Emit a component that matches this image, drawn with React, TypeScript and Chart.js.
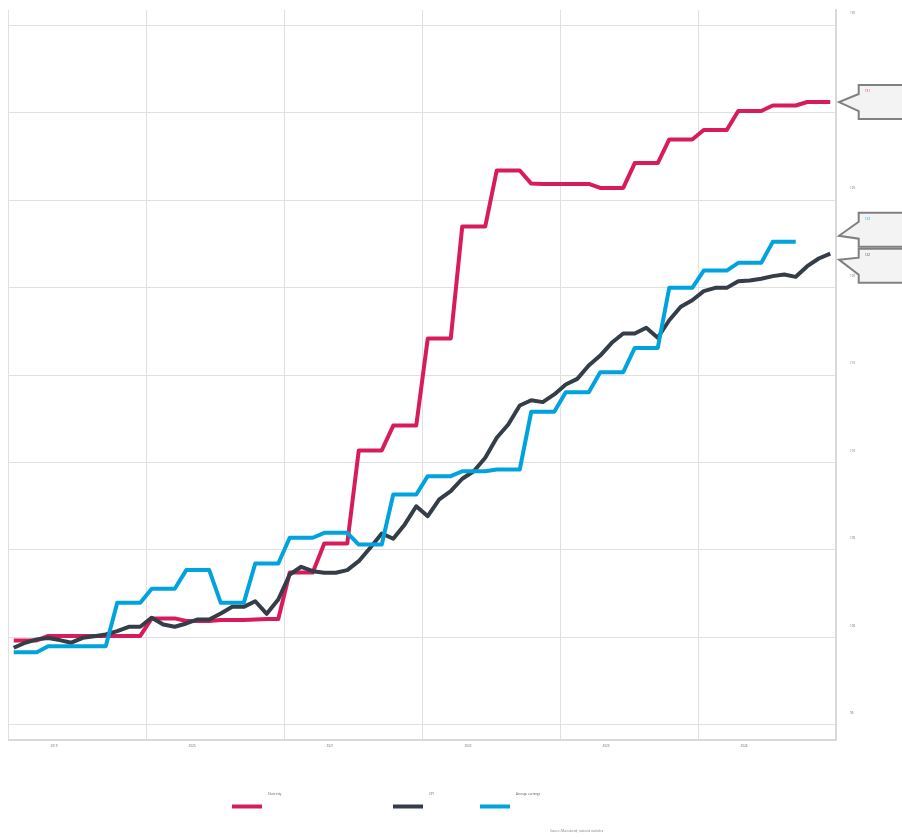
import React, { useEffect, useRef } from "react";
import { Chart, registerables } from "chart.js";

Chart.register(...registerables);

// ---- data (monthly, Jan 2019 = month 0) ----
const years = ["2019", "2020", "2021", "2022", "2023", "2024"];
const seriesNames = ["Electricity", "CPI", "Average earnings"];
const seriesColors = ["#d81c5b", "#343d48", "#00a3de"];

const electricity = [
  99.83, 99.83, 99.83, 100.09, 100.09, 100.09, 100.09, 100.09, 100.09, 100.09, 100.09, 100.09,
  101.09, 101.09, 101.09, 100.94, 100.94, 100.94, 101.0, 101.0, 101.0, 101.03, 101.06, 101.06,
  103.71, 103.71, 103.71, 105.37, 105.37, 105.37, 110.69, 110.69, 110.69, 112.11, 112.11, 112.11,
  117.09, 117.09, 117.09, 123.49, 123.49, 123.49, 126.69, 126.69, 126.69, 125.94, 125.92, 125.92,
  125.92, 125.92, 125.92, 125.69, 125.69, 125.69, 127.11, 127.11, 127.11, 128.46, 128.46, 128.46,
  129.0, 129.0, 129.0, 130.09, 130.09, 130.09, 130.4, 130.4, 130.4, 130.6, 130.6, 130.6,
];

const cpi = [
  99.41, 99.7, 99.89, 99.97, 99.85, 99.7, 99.98, 100.07, 100.17, 100.36, 100.61, 100.61,
  101.13, 100.74, 100.61, 100.8, 101.03, 101.03, 101.37, 101.75, 101.75, 102.07, 101.35, 102.17,
  103.6, 104.04, 103.79, 103.7, 103.7, 103.85, 104.36, 105.13, 105.94, 105.64, 106.46, 107.5,
  106.93, 107.89, 108.36, 109.07, 109.5, 110.27, 111.41, 112.17, 113.26, 113.56, 113.45, 113.89,
  114.46, 114.78, 115.54, 116.11, 116.84, 117.37, 117.37, 117.7, 117.13, 118.13, 118.9, 119.27,
  119.79, 119.98, 119.98, 120.36, 120.4, 120.5, 120.65, 120.74, 120.61, 121.22, 121.66, 121.94,
];

const earnings = [
  99.16, 99.16, 99.16, 99.5, 99.5, 99.5, 99.5, 99.5, 99.5, 101.98, 101.98, 101.98,
  102.78, 102.78, 102.78, 103.85, 103.85, 103.85, 101.98, 101.98, 101.98, 104.23, 104.23, 104.23,
  105.7, 105.7, 105.7, 105.98, 105.98, 105.98, 105.31, 105.31, 105.31, 108.17, 108.17, 108.17,
  109.22, 109.22, 109.22, 109.5, 109.5, 109.5, 109.6, 109.6, 109.6, 112.9, 112.9, 112.9,
  114.02, 114.02, 114.02, 115.16, 115.16, 115.16, 116.55, 116.55, 116.55, 119.98, 119.98, 119.98,
  120.97, 120.97, 120.97, 121.41, 121.41, 121.41, 122.61, 122.61, 122.61,
];

const yTicks = [95, 100, 105, 110, 115, 120, 125, 130, 135];
const sourceText = "Source: Macrobond, national statistics";

const FONT = "'Open Sans', 'DejaVu Sans', sans-serif";

const zeroPad = (scale: any) => {
  scale.paddingTop = 0;
  scale.paddingBottom = 0;
  scale.paddingLeft = 0;
  scale.paddingRight = 0;
};

const overlayPlugin = {
  id: "overlay",
  afterDraw(chart: any) {
    const { ctx, chartArea, scales } = chart;
    const ys = scales.y;
    const items = chart.data.datasets.map((ds: any, i: number) => {
      const last = ds.data[ds.data.length - 1].y;
      const vy = ys.getPixelForValue(last);
      return { i, color: ds.borderColor, value: last, vy, cy: vy };
    });
    items.sort((a: any, b: any) => a.vy - b.vy);
    const gap = 36;
    for (let it = 0; it < 30; it++) {
      for (let k = 1; k < items.length; k++) {
        const a = items[k - 1];
        const b = items[k];
        const d = b.cy - a.cy;
        if (d < gap) {
          const s = (gap - d) / 2;
          a.cy -= s;
          b.cy += s;
        }
      }
    }
    ctx.save();
    items.forEach((it: any) => {
      const left = chartArea.right + 22.7;
      const right = chart.width + 10;
      const top = it.cy - 17;
      const bottom = it.cy + 17;
      const tipX = chartArea.right + 3;
      const tipY = (it.vy + it.cy) / 2;
      ctx.beginPath();
      ctx.moveTo(left, top);
      ctx.lineTo(right, top);
      ctx.lineTo(right, bottom);
      ctx.lineTo(left, bottom);
      ctx.lineTo(left, bottom - 8);
      ctx.lineTo(tipX, tipY);
      ctx.lineTo(left, top + 9);
      ctx.closePath();
      ctx.fillStyle = "#f3f3f3";
      ctx.fill();
      ctx.lineWidth = 2;
      ctx.strokeStyle = "#808080";
      ctx.lineJoin = "miter";
      ctx.stroke();
      ctx.fillStyle = it.color;
      ctx.font = `3px ${FONT}`;
      ctx.textBaseline = "middle";
      ctx.textAlign = "left";
      ctx.fillText(it.value.toFixed(0), left + 6, top + 6.5);
    });

    // legend
    const swX = [224, 385, 472];
    chart.data.datasets.forEach((ds: any, i: number) => {
      const x = swX[i];
      ctx.beginPath();
      ctx.lineWidth = 4;
      ctx.strokeStyle = ds.borderColor;
      ctx.lineCap = "butt";
      ctx.moveTo(x, 798.5);
      ctx.lineTo(x + 30, 798.5);
      ctx.stroke();
      ctx.fillStyle = "#555";
      ctx.font = `3px ${FONT}`;
      ctx.textBaseline = "middle";
      ctx.textAlign = "left";
      ctx.fillText(ds.label, x + 36, 786);
    });

    // source
    ctx.fillStyle = "#777";
    ctx.font = `3px ${FONT}`;
    ctx.textAlign = "left";
    ctx.textBaseline = "middle";
    ctx.fillText(sourceText, 542, 823);
    ctx.restore();
  },
};

export default function App() {
  const ref = useRef<HTMLCanvasElement>(null);

  useEffect(() => {
    if (!ref.current) return;
    const series = [electricity, cpi, earnings];
    const boundaries = years.map((_, k) => -0.5 + 12 * k).concat([-0.5 + 12 * years.length]);
    const labelPos = years.map((_, k) => 3.5 + 12 * k);
    const chart = new Chart(ref.current, {
      type: "line",
      data: {
        datasets: series.map((arr, i) => ({
          label: seriesNames[i],
          data: arr.map((v, m) => ({ x: m, y: v })),
          borderColor: seriesColors[i],
          backgroundColor: seriesColors[i],
          borderWidth: 4,
          pointRadius: 0,
          tension: 0,
          borderJoinStyle: "round" as const,
          order: 2 - i,
        })),
      },
      options: {
        responsive: false,
        animation: false,
        devicePixelRatio: 1,
        layout: { padding: { top: 2, bottom: 77, left: 0, right: 0 } },
        plugins: {
          legend: { display: false },
          tooltip: { enabled: false },
        },
        scales: {
          x: {
            type: "linear",
            min: -0.5,
            max: 71.5,
            afterBuildTicks: (scale: any) => {
              const t = boundaries.concat(labelPos).sort((a, b) => a - b);
              scale.ticks = t.map((v) => ({ value: v }));
            },
            afterFit: (scale: any) => {
              scale.height = 20;
              zeroPad(scale);
            },
            grid: {
              color: (c: any) =>
                c.tick && boundaries.includes(c.tick.value) ? "#e0e0e0" : "rgba(0,0,0,0)",
              lineWidth: 1,
              drawTicks: false,
            },
            border: { display: true, color: "#d9d9d9", width: 2 },
            ticks: {
              autoSkip: false,
              maxRotation: 0,
              padding: 4,
              color: "#666",
              font: { size: 3, family: FONT },
              callback: (v: any) => {
                const idx = labelPos.indexOf(Number(v));
                return idx >= 0 ? years[idx] : "";
              },
            },
          },
          y: {
            type: "linear",
            position: "right",
            min: 94.14,
            max: 135.86,
            afterBuildTicks: (scale: any) => {
              scale.ticks = yTicks.map((v) => ({ value: v }));
            },
            afterFit: (scale: any) => {
              scale.width = 66;
              zeroPad(scale);
            },
            grid: { color: "#e0e0e0", lineWidth: 1, drawTicks: false },
            border: { display: true, color: "#d9d9d9", width: 2 },
            ticks: {
              padding: 14,
              labelOffset: -11.5,
              color: "#666",
              font: { size: 3, family: FONT },
              callback: (v: any) => String(v),
            },
          },
        },
      },
      plugins: [overlayPlugin],
    } as any);
    return () => chart.destroy();
  }, []);

  return (
    <div style={{ position: "absolute", left: 8, top: 8, width: 894, height: 829 }}>
      <canvas ref={ref} width={894} height={829} style={{ display: "block" }} />
    </div>
  );
}
